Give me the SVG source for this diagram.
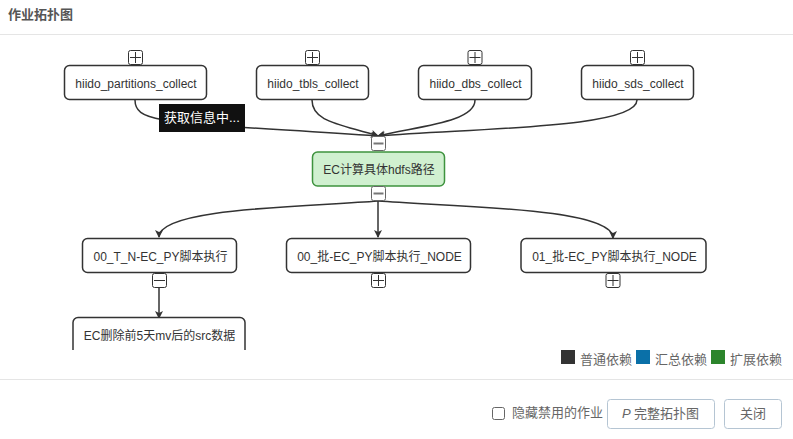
<svg xmlns="http://www.w3.org/2000/svg" width="793" height="439" viewBox="0 0 793 439">
<style>
text{font-family:"Liberation Sans","Noto Sans CJK SC",sans-serif;font-size:12px;fill:#333}
.n{fill:#fff;stroke:#333;stroke-width:1.5}
.t{text-anchor:middle}
.b{fill:#fff;stroke:#333;stroke-width:1}
.g{fill:none;stroke:#333;stroke-width:1}
.m{fill:#fff;stroke:#666;stroke-width:1}
.mg{stroke:#777;stroke-width:2}
.e{fill:none;stroke:#333;stroke-width:1.5}
.ui{fill:#666;font-size:13px}
.btn{fill:#fff;stroke:#b5c5d3;stroke-width:1}
</style>
<defs>
<marker id="a" markerWidth="10" markerHeight="10" refX="7" refY="4" orient="auto" markerUnits="userSpaceOnUse"><path d="M0,0L8,4L0,8L2,4Z" fill="#333"/></marker>
<clipPath id="c"><rect x="0" y="36" width="793" height="314"/></clipPath>
</defs>
<rect width="793" height="439" fill="#fff"/>
<text x="8" y="19" style="font-size:13px;font-weight:bold;fill:#555">作业拓扑图</text>
<path d="M0,34.500H793M0,379.500H793" stroke="#e5e5e5" fill="none"/>
<g id="connectors" clip-path="url(#c)">
<path class="e" marker-end="url(#a)" d="M135,100C135,125 170,122 378,136"/>
<path class="e" marker-end="url(#a)" d="M312,100C312,122 340,124 378,136"/>
<path class="e" marker-end="url(#a)" d="M475,100C475,122 420,126 378,136"/>
<path class="e" marker-end="url(#a)" d="M637,100C637,128 480,128 378,136"/>
<path class="e" marker-end="url(#a)" d="M378,201C300,207 159,208 159,237"/>
<path class="e" marker-end="url(#a)" d="M378,201V237"/>
<path class="e" marker-end="url(#a)" d="M378,201C460,207 613,208 613,238"/>
<path class="e" marker-end="url(#a)" d="M159,288V318"/>
</g>
<g id="node-partitions">
<rect class="n" x="64.500" y="65.500" width="142" height="34" rx="5"/>
<text class="t" x="136" y="88">hiido_partitions_collect</text>
<rect class="b" x="128.500" y="50.500" width="14" height="14" rx="2"/><path class="g" d="M130,57.500H141M135.500,52V63"/>
</g>
<g id="node-tbls">
<rect class="n" x="256.500" y="65.500" width="112" height="34" rx="5"/>
<text class="t" x="313" y="88">hiido_tbls_collect</text>
<rect class="b" x="305.500" y="50.500" width="14" height="14" rx="2"/><path class="g" d="M307,57.500H318M312.500,52V63"/>
</g>
<g id="node-dbs">
<rect class="n" x="418.500" y="65.500" width="113" height="34" rx="5"/>
<text class="t" x="475.500" y="88">hiido_dbs_collect</text>
<rect class="b" x="468" y="50.500" width="14" height="14" rx="2"/><path class="g" d="M469.500,57.500H480.500M475,52V63"/>
</g>
<g id="node-sds">
<rect class="n" x="581.500" y="65.500" width="112" height="34" rx="5"/>
<text class="t" x="638" y="88">hiido_sds_collect</text>
<rect class="b" x="630.500" y="50.500" width="14" height="14" rx="2"/><path class="g" d="M632,57.500H643M637.500,52V63"/>
</g>
<g id="node-ec">
<rect x="312.500" y="152" width="132" height="34" rx="5" fill="#d0f0d0" stroke="#3e933e" stroke-width="1.500"/>
<text class="t" x="379" y="174">EC计算具体hdfs路径</text>
<rect class="m" x="371.500" y="136.500" width="14" height="14" rx="2"/><path class="mg" d="M373.500,143.500H383.500"/>
<rect class="m" x="371.500" y="186.500" width="14" height="14" rx="2"/><path class="mg" d="M373.500,193.500H383.500"/>
</g>
<g id="node-00tn">
<rect class="n" x="82.500" y="238.500" width="154" height="34" rx="5"/>
<text class="t" x="160.500" y="261">00_T_N-EC_PY脚本执行</text>
<rect class="b" x="152.500" y="273.500" width="14" height="14" rx="2"/><path class="g" d="M154,280.500H165"/>
</g>
<g id="node-00pi">
<rect class="n" x="286.500" y="238.500" width="184" height="34" rx="5"/>
<text class="t" x="379.500" y="261">00_批-EC_PY脚本执行_NODE</text>
<rect class="b" x="371.500" y="273.500" width="14" height="14" rx="2"/><path class="g" d="M373,280.500H384M378.500,275V286"/>
</g>
<g id="node-01pi">
<rect class="n" x="521" y="238.500" width="185" height="34" rx="5"/>
<text class="t" x="614.500" y="261">01_批-EC_PY脚本执行_NODE</text>
<rect class="b" x="606" y="273.500" width="14" height="14" rx="2"/><path class="g" d="M607.500,280.500H618.500M613,275V286"/>
</g>
<g id="node-ecdel" clip-path="url(#c)">
<rect class="n" x="73" y="317.500" width="172" height="40" rx="5"/>
<text class="t" x="159.500" y="340">EC删除前5天mv后的src数据</text>
</g>
<g id="tooltip">
<rect x="159" y="104" width="86" height="28" fill="#111"/>
<text x="164" y="122" style="fill:#fff;font-size:13px">获取信息中...</text>
</g>
<g id="legend">
<rect x="561" y="350" width="14" height="14" fill="#333"/>
<text class="ui" x="580" y="364">普通依赖</text>
<rect x="636" y="350" width="14" height="14" fill="#0a70a8"/>
<text class="ui" x="655" y="364">汇总依赖</text>
<rect x="711" y="350" width="14" height="14" fill="#2c852c"/>
<text class="ui" x="730" y="364">扩展依赖</text>
</g>
<g id="footer">
<rect x="492.500" y="407.500" width="12" height="12" rx="2" fill="#fff" stroke="#666"/>
<text class="ui" x="512" y="417">隐藏禁用的作业</text>
<rect class="btn" x="607.500" y="399.500" width="107" height="29" rx="3"/>
<text class="ui" x="622" y="418"><tspan font-style="italic">P</tspan><tspan x="634">完整拓扑图</tspan></text>
<rect class="btn" x="724.500" y="399.500" width="57" height="29" rx="3"/>
<text class="ui t" x="753" y="418">关闭</text>
</g>
</svg>
